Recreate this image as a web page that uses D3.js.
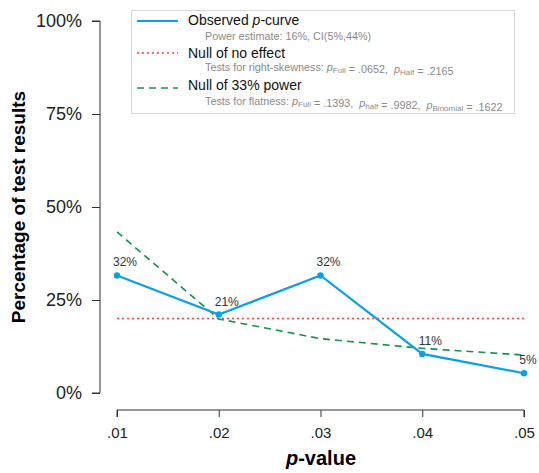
<!DOCTYPE html>
<html>
<head>
<meta charset="utf-8">
<script src="https://cdn.jsdelivr.net/npm/d3@7"></script>
<style>
  body { margin: 0; background: #fff; }
  text { font-family: "Liberation Sans", Arial, Helvetica, sans-serif; white-space: pre; }
</style>
</head>
<body>
<div id="plot"></div>
<script>
// p-curve data (percent of significant results per p-value bin)
const pValues = [0.01, 0.02, 0.03, 0.04, 0.05];
const pLabels = [".01", ".02", ".03", ".04", ".05"];
const observed = [31.6, 21.1, 31.6, 10.5, 5.3];
const observedLabels = ["32%", "21%", "32%", "11%", "5%"];
const nullEffect = [20, 20, 20, 20, 20];
const power33 = [43.3, 19.9, 14.6, 12.0, 10.2];
const yTicks = [0, 25, 50, 75, 100];

const width = 539, height = 473;

const svg = d3.select("#plot").append("svg")
  .attr("width", width)
  .attr("height", height);

const x = d3.scaleLinear().domain([0.01, 0.05]).range([117, 524]);
const y = d3.scaleLinear().domain([0, 100]).range([393, 21]);

// y axis
const yAxis = svg.append("g")
  .attr("transform", "translate(100,0)")
  .call(d3.axisLeft(y).tickValues(yTicks).tickFormat(d => d + "%").tickSize(8).tickPadding(10));
yAxis.select(".domain").attr("stroke", "#333").attr("d", `M-8,${y(0)}H0V${y(100)}H-8`);
yAxis.selectAll(".tick line").attr("stroke", "#333");
yAxis.selectAll(".tick text").attr("fill", "#222").style("font-size", "18px");

// x axis
const xAxis = svg.append("g")
  .attr("transform", "translate(0,410)")
  .call(d3.axisBottom(x).tickValues(pValues).tickFormat((d, i) => pLabels[i]).tickSize(7).tickPadding(10));
xAxis.select(".domain").attr("stroke", "#333").attr("d", `M${x(0.01)},7V0H${x(0.05)}V7`);
xAxis.selectAll(".tick line").attr("stroke", "#333");
xAxis.selectAll(".tick text").attr("fill", "#222").style("font-size", "15px");

// axis titles
svg.append("text")
  .attr("transform", `translate(25,${(y(0) + y(100)) / 2}) rotate(-90)`)
  .attr("text-anchor", "middle")
  .style("font-size", "19px")
  .style("font-weight", "bold")
  .text("Percentage of test results");

const xt = svg.append("text")
  .attr("x", 321).attr("y", 465)
  .attr("text-anchor", "middle")
  .style("font-size", "20px")
  .style("font-weight", "bold");
xt.append("tspan").style("font-style", "italic").text("p");
xt.append("tspan").text("-value");

const line = d3.line().x((d, i) => x(pValues[i])).y(d => y(d));

// null of no effect
svg.append("path").datum(nullEffect)
  .attr("fill", "none").attr("stroke", "#ff3b3b")
  .attr("stroke-width", 1.5).attr("stroke-dasharray", "2,3")
  .attr("d", line);

// null of 33% power
svg.append("path").datum(power33)
  .attr("fill", "none").attr("stroke", "#15924a")
  .attr("stroke-width", 1.6).attr("stroke-dasharray", "7,5")
  .attr("d", line);

// observed
svg.append("path").datum(observed)
  .attr("fill", "none").attr("stroke", "#0ba0e6")
  .attr("stroke-width", 2.2)
  .attr("d", line);

svg.selectAll(".dot").data(observed).enter().append("circle")
  .attr("cx", (d, i) => x(pValues[i]))
  .attr("cy", d => y(d))
  .attr("r", 3.2)
  .attr("fill", "#0ba0e6");

// point labels, last one pulled in so it stays inside the window
svg.selectAll(".lbl").data(observed).enter().append("text")
  .attr("x", (d, i) => Math.min(x(pValues[i]) + 8, width - 11))
  .attr("y", d => y(d) - 9)
  .attr("text-anchor", "middle")
  .attr("fill", "#333")
  .style("font-size", "12px")
  .text((d, i) => observedLabels[i]);

// legend
const legend = svg.append("g");
legend.append("rect")
  .attr("x", 131.5).attr("y", 10.5).attr("width", 383).attr("height", 103)
  .attr("fill", "#fff").attr("stroke", "#d8d8d8");

const items = [
  { color: "#0ba0e6", dash: null, w: 2, ly: 21, ty: 25, sy: 40,
    title: [["Observed ", false], ["p", true], ["-curve", false]],
    sub: [["Power estimate: 16%, CI(5%,44%)"]] },
  { color: "#ff3b3b", dash: "2,3", w: 1.5, ly: 53, ty: 58, sy: 71,
    title: [["Null of no effect", false]],
    sub: [["Tests for right-skewness: "], ["p", "Full"], [" = .0652,  "], ["p", "Half"], [" = .2165"]] },
  { color: "#15924a", dash: "7,5", w: 1.6, ly: 88, ty: 90, sy: 105,
    title: [["Null of 33% power", false]],
    sub: [["Tests for flatness: "], ["p", "Full"], [" = .1393,  "], ["p", "half"], [" = .9982,  "], ["p", "Binomial"], [" = .1622"]] }
];

items.forEach(it => {
  legend.append("line")
    .attr("x1", 137).attr("x2", 178).attr("y1", it.ly).attr("y2", it.ly)
    .attr("stroke", it.color).attr("stroke-width", it.w)
    .attr("stroke-dasharray", it.dash);

  const t = legend.append("text").attr("x", 188).attr("y", it.ty)
    .attr("fill", "#111").style("font-size", "14px");
  it.title.forEach(([s, ital]) => {
    t.append("tspan").style("font-style", ital ? "italic" : "normal").text(s);
  });

  const s = legend.append("text").attr("x", 205).attr("y", it.sy)
    .attr("fill", "#8a8a8a").style("font-size", "10.8px");
  it.sub.forEach(part => {
    if (part.length === 1) {
      s.append("tspan").text(part[0]);
    } else {
      s.append("tspan").style("font-style", "italic").text(part[0]);
      s.append("tspan").attr("dy", 2).style("font-size", "8px").text(part[1]);
      s.append("tspan").attr("dy", -2).text("");
    }
  });
});
</script>
</body>
</html>
